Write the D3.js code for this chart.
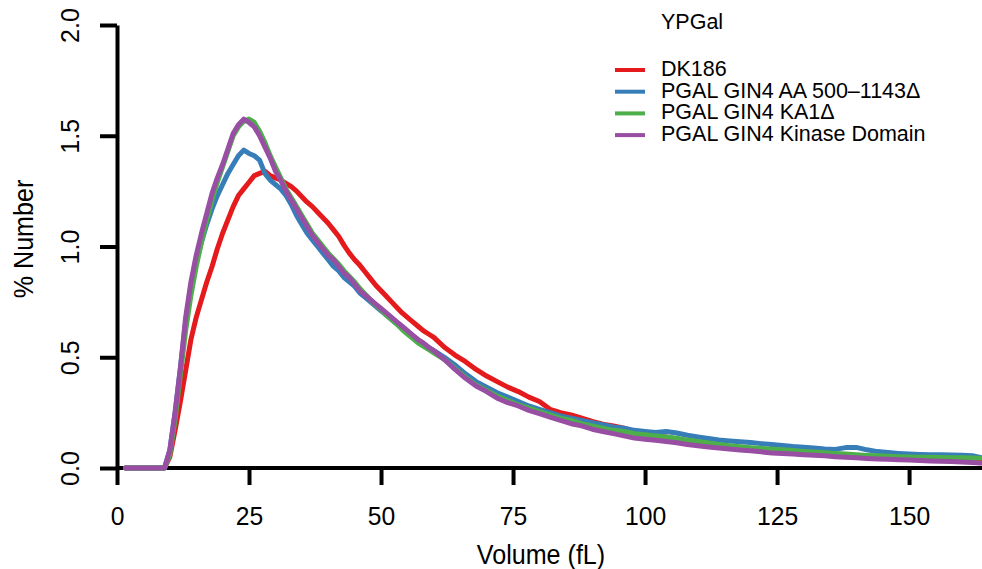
<!DOCTYPE html>
<html>
<head>
<meta charset="utf-8">
<title>YPGal cell volume</title>
<script src="https://d3js.org/d3.v7.min.js"></script>
<style>
body { margin: 0; background: #fff; }
svg { display: block; font-family: 'Liberation Sans', Arial, Helvetica, sans-serif; }
.axis path, .axis line { stroke: #000; stroke-width: 4px; }
.axis text { font-size: 25px; fill: #000; }
.series { fill: none; stroke-width: 5px; stroke-linejoin: round; stroke-linecap: round; }
.legend text { font-size: 21.5px; fill: #000; }
</style>
</head>
<body>
<svg width="982" height="569"></svg>
<script>

// sampled volumes (fL)
const volume = [1.6,
    9, 10, 11, 12, 13, 14, 15, 16, 17, 18, 19, 20, 21, 22, 23, 24, 25, 26, 27, 28, 29, 30,
    31, 32, 33, 34, 35, 36, 37, 38, 39, 40, 41, 42, 43, 44, 45, 46, 47, 48, 49, 50,
    51, 52, 53, 54, 55, 56, 57, 58, 59, 60,
    62, 64, 66, 68, 70, 72, 74, 76, 78, 80, 82, 84, 86, 88, 90, 92, 94, 96, 98, 100,
    102, 104, 106, 108, 110, 112, 114, 116, 118, 120, 122, 124, 126, 128, 130, 132,
    134, 136, 138, 140, 142, 144, 146, 148, 150, 152, 154, 156, 158, 160, 162, 163.5];

const dk186 = [0,
    0, 0.05, 0.17, 0.30, 0.44, 0.58, 0.68, 0.76, 0.84, 0.91, 0.99, 1.06, 1.12, 1.18, 1.23, 1.26, 1.29, 1.32, 1.33, 1.34, 1.32, 1.31,
    1.30, 1.285, 1.27, 1.25, 1.225, 1.20, 1.18, 1.155, 1.13, 1.105, 1.075, 1.045, 1.005, 0.97, 0.94, 0.915, 0.885, 0.855, 0.825, 0.80,
    0.775, 0.75, 0.725, 0.70, 0.68, 0.66, 0.64, 0.62, 0.605, 0.59,
    0.545, 0.51, 0.48, 0.445, 0.415, 0.39, 0.365, 0.345, 0.32, 0.30, 0.265, 0.25, 0.24, 0.225, 0.21, 0.198, 0.19, 0.18, 0.165, 0.15,
    0.145, 0.14, 0.13, 0.12, 0.113, 0.105, 0.098, 0.092, 0.087, 0.083, 0.079, 0.076, 0.073, 0.07, 0.067, 0.064,
    0.061, 0.058, 0.055, 0.053, 0.051, 0.05, 0.048, 0.047, 0.046, 0.045, 0.044, 0.042, 0.04, 0.038, 0.036, 0.034];

const aa500 = [0,
    0, 0.08, 0.25, 0.45, 0.66, 0.82, 0.93, 1.02, 1.10, 1.17, 1.23, 1.28, 1.33, 1.37, 1.41, 1.435, 1.42, 1.41, 1.39, 1.33, 1.30, 1.28,
    1.26, 1.23, 1.19, 1.14, 1.10, 1.06, 1.03, 1.00, 0.97, 0.94, 0.91, 0.89, 0.86, 0.84, 0.82, 0.79, 0.77, 0.75, 0.73, 0.71,
    0.69, 0.67, 0.65, 0.63, 0.61, 0.595, 0.575, 0.56, 0.545, 0.53,
    0.50, 0.465, 0.425, 0.39, 0.365, 0.34, 0.32, 0.30, 0.28, 0.265, 0.25, 0.235, 0.225, 0.215, 0.205, 0.195, 0.185, 0.18, 0.17, 0.165,
    0.16, 0.165, 0.158, 0.148, 0.14, 0.133, 0.126, 0.122, 0.118, 0.115, 0.11, 0.106, 0.102, 0.097, 0.094, 0.09,
    0.086, 0.084, 0.092, 0.093, 0.082, 0.074, 0.07, 0.066, 0.063, 0.061, 0.06, 0.06, 0.059, 0.058, 0.055, 0.048];

const ka1 = [0,
    0, 0.06, 0.22, 0.42, 0.62, 0.78, 0.91, 1.02, 1.12, 1.21, 1.29, 1.36, 1.43, 1.50, 1.54, 1.565, 1.575, 1.56, 1.52, 1.47, 1.41, 1.36,
    1.31, 1.26, 1.22, 1.18, 1.14, 1.10, 1.06, 1.03, 1.00, 0.97, 0.945, 0.92, 0.89, 0.865, 0.84, 0.81, 0.785, 0.76, 0.735, 0.715,
    0.69, 0.67, 0.65, 0.625, 0.605, 0.585, 0.565, 0.55, 0.535, 0.52,
    0.49, 0.45, 0.41, 0.375, 0.35, 0.325, 0.305, 0.285, 0.27, 0.255, 0.24, 0.225, 0.215, 0.20, 0.19, 0.18, 0.17, 0.165, 0.155, 0.15,
    0.145, 0.14, 0.134, 0.126, 0.12, 0.113, 0.106, 0.10, 0.096, 0.092, 0.088, 0.085, 0.082, 0.079, 0.075, 0.072,
    0.069, 0.066, 0.063, 0.06, 0.057, 0.055, 0.053, 0.051, 0.05, 0.049, 0.048, 0.047, 0.046, 0.046, 0.045, 0.044];

const kinase = [0,
    0, 0.08, 0.25, 0.45, 0.68, 0.84, 0.96, 1.06, 1.15, 1.24, 1.31, 1.37, 1.44, 1.51, 1.55, 1.575, 1.56, 1.54, 1.50, 1.45, 1.40, 1.34,
    1.30, 1.25, 1.21, 1.17, 1.13, 1.09, 1.05, 1.02, 0.99, 0.96, 0.94, 0.91, 0.88, 0.86, 0.83, 0.80, 0.78, 0.76, 0.74, 0.72,
    0.70, 0.68, 0.66, 0.64, 0.62, 0.60, 0.58, 0.565, 0.545, 0.53,
    0.49, 0.445, 0.405, 0.37, 0.345, 0.315, 0.295, 0.28, 0.26, 0.245, 0.23, 0.215, 0.20, 0.19, 0.175, 0.165, 0.155, 0.145, 0.135, 0.13,
    0.125, 0.12, 0.114, 0.106, 0.10, 0.095, 0.09, 0.086, 0.081, 0.078, 0.073, 0.068, 0.066, 0.063, 0.06, 0.058,
    0.055, 0.051, 0.048, 0.046, 0.043, 0.041, 0.039, 0.037, 0.036, 0.034, 0.032, 0.031, 0.029, 0.027, 0.025, 0.022];

const seriesNames = ['DK186', 'PGAL GIN4 AA 500\u20131143\u0394', 'PGAL GIN4 KA1\u0394', 'PGAL GIN4 Kinase Domain'];
const seriesValues = [dk186, aa500, ka1, kinase];
const seriesColors = ['#e41a1c', '#377eb8', '#4daf4a', '#984ea3'];

const xTicks = [0, 25, 50, 75, 100, 125, 150];
const yTicks = [0, 0.5, 1.0, 1.5, 2.0];

const svg = d3.select('svg');

const x = d3.scaleLinear().domain([0, 164]).range([117, 983]);
const y = d3.scaleLinear().domain([0, 2]).range([468, 25]);

// x axis
const xAxis = svg.append('g')
    .attr('class', 'axis')
    .attr('transform', `translate(0,${y(0)})`)
    .call(d3.axisBottom(x).tickValues(xTicks).tickFormat(d3.format('d')).tickSize(17).tickSizeOuter(0));
xAxis.select('.domain').attr('d', `M${x(0)},0H${x(164)}`);
xAxis.selectAll('text')
    .attr('y', 0).attr('dy', 0)
    .style('font-size', '26px')
    .attr('transform', 'translate(0,57) scale(0.95,1)');

// y axis
const yAxis = svg.append('g')
    .attr('class', 'axis')
    .attr('transform', `translate(${x(0)},0)`)
    .call(d3.axisLeft(y).tickValues(yTicks).tickFormat(d3.format('.1f')).tickSize(17).tickSizeOuter(0));
yAxis.selectAll('text')
    .attr('x', 0).attr('dy', 0)
    .attr('y', -38)
    .attr('text-anchor', 'middle')
    .attr('transform', 'rotate(-90)');

// axis titles
svg.append('text')
    .attr('transform', 'translate(541,564) scale(0.93,1)')
    .attr('text-anchor', 'middle')
    .style('font-size', '27px')
    .text('Volume (fL)');

svg.append('text')
    .attr('transform', 'translate(33,239) rotate(-90) scale(0.93,1)')
    .attr('text-anchor', 'middle')
    .style('font-size', '27px')
    .text('% Number');

// curves
const line = d3.line()
    .x((d, i) => x(volume[i]))
    .y(d => y(d));

svg.append('g')
    .selectAll('path')
    .data(seriesValues)
    .join('path')
    .attr('class', 'series')
    .attr('stroke', (d, i) => seriesColors[i])
    .attr('d', line);

// legend
const legend = svg.append('g').attr('class', 'legend');

legend.append('text')
    .attr('x', 661).attr('y', 29)
    .text('YPGal');

const items = legend.selectAll('.item')
    .data(seriesNames)
    .join('g')
    .attr('class', 'item')
    .attr('transform', (d, i) => `translate(0,${70 + i * 21.7})`);

items.append('line')
    .attr('x1', 615).attr('x2', 645)
    .attr('stroke', (d, i) => seriesColors[i])
    .attr('stroke-width', 4);

items.append('text')
    .attr('x', 661).attr('y', 6)
    .text(d => d);

</script>
</body>
</html>
